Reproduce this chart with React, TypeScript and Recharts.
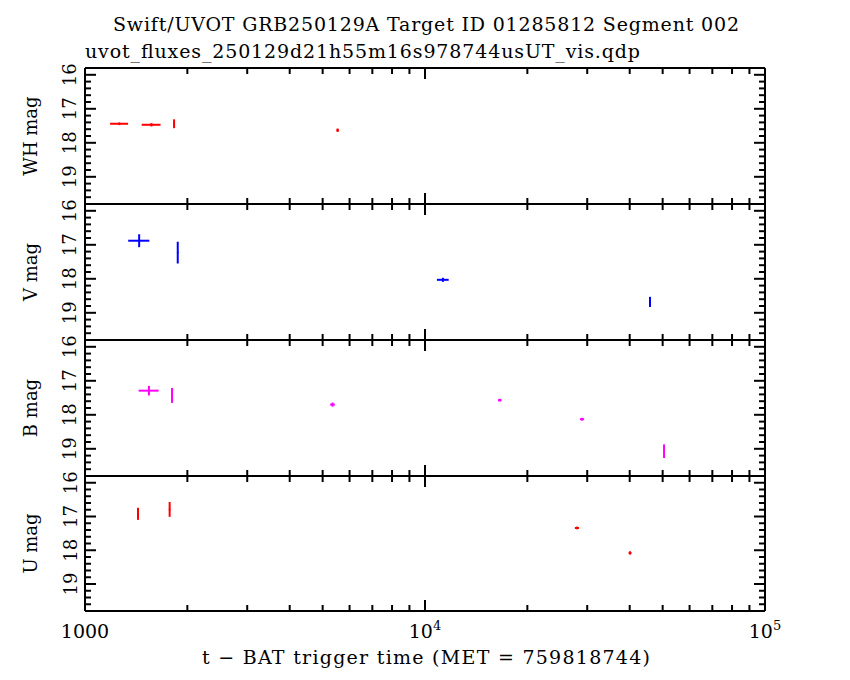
import React from "react";
import { ScatterChart, Scatter, XAxis, YAxis, ErrorBar } from "recharts";

// t (s since trigger), mag, errors
const whData = [
  { t: 1262, m: 17.44, tErr: 77, mErr: 0.04 },
  { t: 1568, m: 17.47, tErr: 100, mErr: 0.05 },
  { t: 1828, m: 17.44, tErr: 10, mErr: 0.13 },
  { t: 5534, m: 17.63, tErr: 45, mErr: 0.05 },
];
const vData = [
  { t: 1443, m: 16.88, tErr: 103, mErr: 0.19 },
  { t: 1874, m: 17.23, tErr: 10, mErr: 0.32 },
  { t: 11290, m: 18.03, tErr: 450, mErr: 0.06 },
  { t: 45900, m: 18.68, tErr: 300, mErr: 0.15 },
];
const bData = [
  { t: 1542, m: 17.29, tErr: 104, mErr: 0.14 },
  { t: 1803, m: 17.43, tErr: 10, mErr: 0.22 },
  { t: 5345, m: 17.7, tErr: 85, mErr: 0.06 },
  { t: 16590, m: 17.57, tErr: 200, mErr: 0.04 },
  { t: 28970, m: 18.13, tErr: 400, mErr: 0.04 },
  { t: 50470, m: 19.07, tErr: 0, mErr: 0.2 },
];
const uData = [
  { t: 1432, m: 16.92, tErr: 10, mErr: 0.18 },
  { t: 1774, m: 16.79, tErr: 10, mErr: 0.22 },
  { t: 27990, m: 17.34, tErr: 400, mErr: 0.04 },
  { t: 40090, m: 18.08, tErr: 400, mErr: 0.05 },
];

const xTicks: number[] = [];
for (const d of [1000, 10000]) for (let k = 1; k <= 9; k++) xTicks.push(k * d);
xTicks.push(100000);
const yTicks: number[] = [];
for (let i = 0; i <= 19; i++) yTicks.push(+(16 + i * 0.2).toFixed(1));

const W = 850;
const H = 680;
const L = 85;
const R = 765;
const FONT = "DejaVu Serif";

const panels = [
  { name: "WH mag", data: whData, color: "#ff0000", top: 68, bottom: 204 },
  { name: "V mag", data: vData, color: "#0000ff", top: 204, bottom: 340 },
  { name: "B mag", data: bData, color: "#ff00ff", top: 340, bottom: 476 },
  { name: "U mag", data: uData, color: "#ff0000", top: 476, bottom: 611 },
];

const isMajorX = (v: number) => v === 1000 || v === 10000 || v === 100000;
const isMajorY = (v: number) => Math.abs(v - Math.round(v)) < 1e-6;

function Panel({ p, last }: { p: (typeof panels)[number]; last: boolean }) {
  const xTick = (side: "top" | "bottom") => (props: any) => {
    const v = props.payload.value;
    const len = isMajorX(v) ? 11 : 6;
    const y0 = side === "bottom" ? p.bottom : p.top;
    const dir = side === "bottom" ? -1 : 1;
    let label: React.ReactNode = null;
    if (side === "bottom" && last && isMajorX(v)) {
      label =
        v === 1000 ? (
          <text x={props.x} y={p.bottom + 27} textAnchor="middle" fontSize={19} fontFamily={FONT}>1000</text>
        ) : (
          <text x={props.x} y={p.bottom + 27} textAnchor="middle" fontSize={19} fontFamily={FONT}>
            10<tspan dy={-8} fontSize={13}>{v === 10000 ? "4" : "5"}</tspan>
          </text>
        );
    }
    return (
      <g>
        <line x1={props.x} x2={props.x} y1={y0} y2={y0 + dir * len} stroke="#000" strokeWidth={2} />
        {label}
      </g>
    );
  };
  const yTick = (side: "left" | "right") => (props: any) => {
    const v = props.payload.value;
    const len = isMajorY(v) ? 11 : 6;
    const x0 = side === "left" ? L : R;
    const dir = side === "left" ? 1 : -1;
    const show = side === "left" && isMajorY(v) && v <= 19;
    return (
      <g>
        <line x1={x0} x2={x0 + dir * len} y1={props.y} y2={props.y} stroke="#000" strokeWidth={2} />
        {show && (
          <text x={70} y={props.y} textAnchor="middle" dominantBaseline="central" fontSize={18} fontFamily={FONT}
            transform={`rotate(-90 70 ${props.y})`}>{v}</text>
        )}
      </g>
    );
  };
  return (
    <div style={{ position: "absolute", left: 0, top: 0 }}>
      <ScatterChart width={W} height={H} margin={{ top: p.top - 1, bottom: H - p.bottom - 1, left: 0, right: 0 }}>
        <XAxis xAxisId="b" dataKey="t" type="number" scale="log" domain={[1000, 100000]} ticks={xTicks} interval={0}
          allowDataOverflow height={1} axisLine={{ stroke: "#000", strokeWidth: 2 }} tickLine={false} tick={xTick("bottom")} />
        <XAxis xAxisId="t" orientation="top" dataKey="t" type="number" scale="log" domain={[1000, 100000]} ticks={xTicks}
          interval={0} allowDataOverflow height={1} axisLine={{ stroke: "#000", strokeWidth: 2 }} tickLine={false} tick={xTick("top")} />
        <YAxis yAxisId="l" dataKey="m" type="number" reversed domain={[15.8, 19.8]} ticks={yTicks} interval={0} allowDataOverflow
          width={L} axisLine={{ stroke: "#000", strokeWidth: 2 }} tickLine={false} tick={yTick("left")} />
        <YAxis yAxisId="r" orientation="right" dataKey="m" type="number" reversed domain={[15.8, 19.8]} ticks={yTicks}
          interval={0} allowDataOverflow width={W - R} axisLine={{ stroke: "#000", strokeWidth: 2 }} tickLine={false} tick={yTick("right")} />
        <Scatter xAxisId="b" yAxisId="l" data={p.data} fill={p.color} shape={() => <g />} isAnimationActive={false}>
          <ErrorBar dataKey="tErr" direction="x" width={0} stroke={p.color} strokeWidth={2} />
          <ErrorBar dataKey="mErr" direction="y" width={0} stroke={p.color} strokeWidth={2} />
        </Scatter>
      </ScatterChart>
      <svg width={W} height={H} style={{ position: "absolute", left: 0, top: 0 }}>
        <text x={30} y={(p.top + p.bottom) / 2} textAnchor="middle" dominantBaseline="central" fontSize={18}
          fontFamily={FONT} transform={`rotate(-90 30 ${(p.top + p.bottom) / 2})`}>{p.name}</text>
      </svg>
    </div>
  );
}

export default function App() {
  return (
    <div style={{ position: "fixed", left: 0, top: 0, width: W, height: H, background: "#fff" }}>
      {panels.map((p, i) => (
        <Panel key={p.name} p={p} last={i === panels.length - 1} />
      ))}
      <svg width={W} height={H} style={{ position: "absolute", left: 0, top: 0 }}>
        <line x1={L} x2={R} y1={68} y2={68} stroke="#000" strokeWidth={2} />
        <line x1={L} x2={R} y1={611} y2={611} stroke="#000" strokeWidth={2} />
        <text x={426} y={31} textAnchor="middle" fontSize={19} fontFamily={FONT} textLength={626}>
          Swift/UVOT GRB250129A Target ID 01285812 Segment 002
        </text>
        <text x={85} y={58} fontSize={19} fontFamily={FONT} textLength={555}>
          uvot_fluxes_250129d21h55m16s978744usUT_vis.qdp
        </text>
        <text x={426} y={664} textAnchor="middle" fontSize={19} fontFamily={FONT} textLength={448}>
          t − BAT trigger time (MET = 759818744)
        </text>
      </svg>
    </div>
  );
}
